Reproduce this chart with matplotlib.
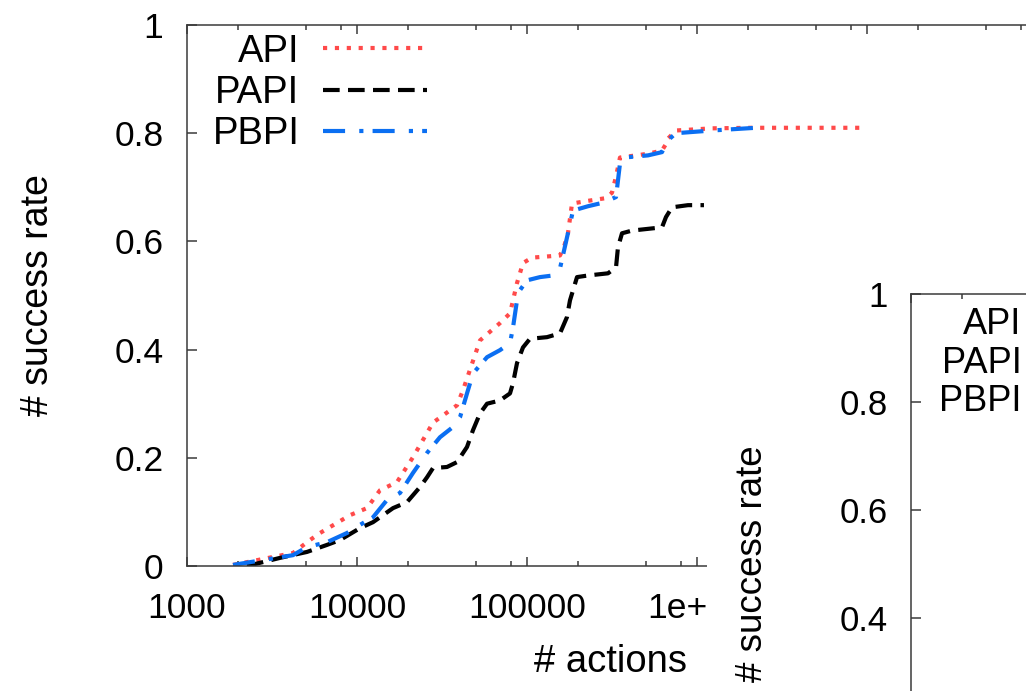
import numpy as np
import matplotlib.pyplot as plt
from matplotlib.lines import Line2D
from matplotlib.patches import Rectangle
from matplotlib.ticker import FixedLocator, FixedFormatter, LogLocator, NullFormatter

plt.rcParams['font.family'] = ['Liberation Sans', 'DejaVu Sans']

# number of actions vs success rate
api_x = [1865, 2800, 4200, 5290, 6060, 9100, 11450, 13650, 17180, 21340, 27990,
         38730, 42030, 52900, 69340, 79430, 87340, 94700, 107000, 156300, 165100,
         174200, 184000, 228500, 291600, 316200, 333900, 352300, 514900, 622300,
         657000, 674800, 751800, 1225000, 2106000, 1e7]
api_y = [0.002, 0.013, 0.024, 0.048, 0.061, 0.094, 0.107, 0.14, 0.155, 0.201, 0.265,
         0.297, 0.325, 0.417, 0.449, 0.467, 0.523, 0.56, 0.57, 0.574, 0.59,
         0.615, 0.67, 0.675, 0.68, 0.69, 0.72, 0.755, 0.762, 0.768,
         0.78, 0.79, 0.805, 0.809, 0.81, 0.81]

papi_x = [2254, 3525, 5080, 6660, 7943, 10410, 12420, 16290, 19680, 23480, 25820,
          27990, 33830, 38730, 44370, 48110, 52900, 58210, 69340, 79430, 82740,
          87340, 94700, 104100, 131100, 156300, 171800, 179000, 196900, 228500,
          299500, 333900, 342800, 362100, 414700, 622300, 657000, 712800, 885100, 1099000]
papi_y = [0.0, 0.015, 0.026, 0.039, 0.048, 0.07, 0.081, 0.107, 0.118, 0.146, 0.164,
          0.181, 0.183, 0.192, 0.22, 0.251, 0.282, 0.3, 0.306, 0.319, 0.338,
          0.375, 0.404, 0.42, 0.423, 0.43, 0.46, 0.491, 0.534, 0.537,
          0.541, 0.552, 0.589, 0.615, 0.62, 0.626, 0.645, 0.663, 0.667, 0.667]

pbpi_x = [1865, 2800, 4200, 5080, 6660, 8730, 10410, 12420, 15010, 17910, 21340,
          25820, 30770, 36710, 40360, 44370, 48110, 58210, 69340, 79430, 82740,
          87340, 91000, 100000, 119200, 142200, 156300, 171800, 186500, 228500,
          283800, 333900, 352300, 372000, 514900, 622300, 674800, 751800, 1225000, 2222000]
pbpi_y = [0.002, 0.011, 0.02, 0.035, 0.044, 0.061, 0.076, 0.09, 0.122, 0.135, 0.172,
          0.209, 0.238, 0.257, 0.275, 0.319, 0.356, 0.386, 0.399, 0.412, 0.441,
          0.491, 0.51, 0.528, 0.534, 0.537, 0.55, 0.607, 0.657, 0.665,
          0.672, 0.682, 0.744, 0.755, 0.759, 0.765, 0.787, 0.8, 0.805, 0.81]

labels = ['API', 'PAPI', 'PBPI']
xticks = [1e3, 1e4, 1e5, 1e6, 1e7, 1e8]
xticklabels = ['1000', '10000', '100000', '1e+06', '1e+07', '1e+08']
yticks = [0, 0.2, 0.4, 0.6, 0.8, 1]
yticklabels = ['0', '0.2', '0.4', '0.6', '0.8', '1']

red = '#ff4a4a'
blue = '#0b6ff2'
styles = [dict(color=red, lw=3, ls=(0, (1, 1.85))),
          dict(color='black', lw=3, ls=(0, (4, 2))),
          dict(color=blue, lw=3, ls=(0, (5.3, 3.4, 1, 2.2)))]
spine_c = '#3a3a3a'

W, H = 1026, 691
fig = plt.figure(figsize=(W / 100, H / 100), dpi=100)


def box(x0, y0, x1, y1):
    return [x0 / W, 1 - y1 / H, (x1 - x0) / W, (y1 - y0) / H]


def style_axes(a, fs):
    a.set_xscale('log')
    a.set_xlim(1e3, 1e8)
    a.set_ylim(0, 1)
    a.xaxis.set_major_locator(FixedLocator(xticks))
    a.xaxis.set_major_formatter(FixedFormatter(xticklabels))
    a.xaxis.set_minor_locator(LogLocator(base=10, subs=[2, 5, 8], numticks=30))
    a.xaxis.set_minor_formatter(NullFormatter())
    a.set_yticks(yticks)
    a.set_yticklabels(yticklabels)
    a.tick_params(which='both', direction='in', top=True, right=True,
                  color=spine_c, width=1.1, labelsize=fs)
    a.tick_params(axis='x', which='major', length=6.5, pad=19)
    a.tick_params(axis='x', which='minor', length=3.6)
    a.tick_params(axis='y', which='major', length=7.2, pad=17)
    for s in a.spines.values():
        s.set_color(spine_c)
        s.set_linewidth(1.1)


ax = fig.add_axes(box(187, 25, 1037, 566))
style_axes(ax, 25.5)
for xs, ys, lab, st in zip([api_x, papi_x, pbpi_x], [api_y, papi_y, pbpi_y], labels, styles):
    ax.plot(xs, ys, label=lab, dash_capstyle='butt', **st)
ax.set_xlabel('# actions', fontsize=27.5, va='center')
ax.xaxis.set_label_coords((611 - 187) / 850, -(662 - 566) / 541)
ax.set_ylabel('# success rate', fontsize=27, va='center')
ax.yaxis.set_label_coords((38 - 187) / 850, (566 - 295) / 541)
ax.legend(loc='upper left', bbox_to_anchor=(0.03, 0.984), frameon=False,
          markerfirst=False, handlelength=2.7, handletextpad=0.63,
          labelspacing=0.14, borderpad=0, borderaxespad=0, fontsize=27.5)

# second panel overlapping on the right
fig.add_artist(Rectangle((707 / W, 0), 1 - 707 / W, 1 - 170 / H,
                         transform=fig.transFigure, facecolor='white',
                         edgecolor='none', zorder=5))
ax2 = fig.add_axes(box(911, 294, 1761, 834), zorder=6)
style_axes(ax2, 25)
ax2.set_ylabel('# success rate', fontsize=26.5, va='center')
ax2.yaxis.set_label_coords((752 - 911) / 850, 0.5)
handles = [Line2D([], [], dash_capstyle='butt', **st) for st in styles]
ax2.legend(handles, labels, loc='upper left', bbox_to_anchor=(0.033, 0.975),
           frameon=False, markerfirst=False, handlelength=2.7, handletextpad=0.63,
           labelspacing=0.09, borderpad=0, borderaxespad=0, fontsize=26)

fig.savefig('out.png', dpi=100)
